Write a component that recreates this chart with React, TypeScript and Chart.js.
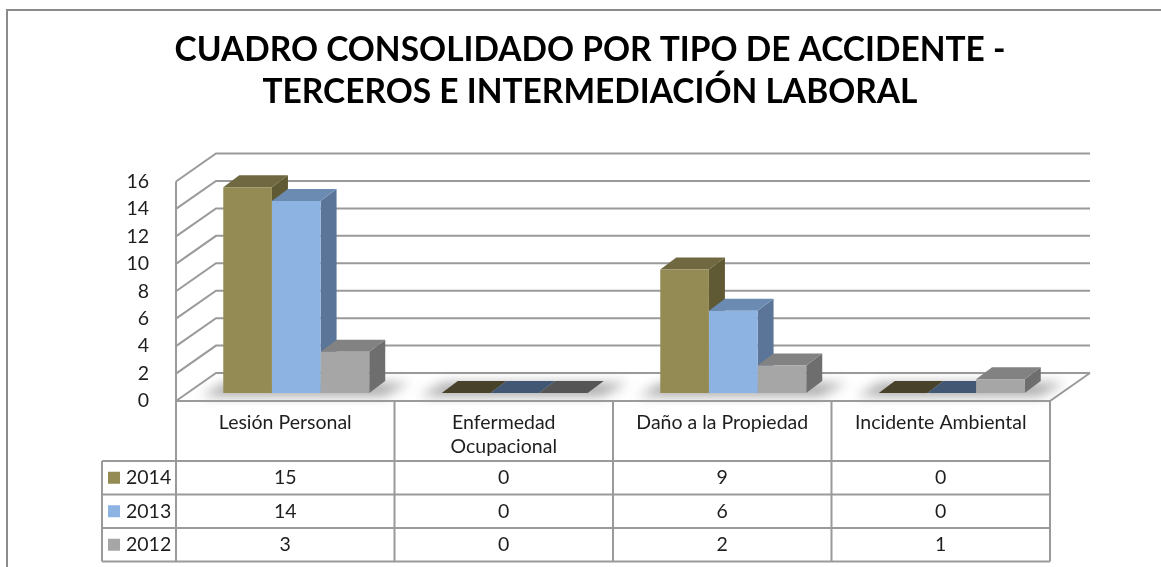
import React, { useEffect, useRef } from "react";
import { Chart, registerables } from "chart.js";

Chart.register(...registerables);

// ---------- data ----------
const categories: string[][] = [
  ["Lesión Personal"],
  ["Enfermedad", "Ocupacional"],
  ["Daño a la Propiedad"],
  ["Incidente Ambiental"],
];
const seriesNames = ["2014", "2013", "2012"];
const values2014 = [15, 0, 9, 0];
const values2013 = [14, 0, 6, 0];
const values2012 = [3, 0, 2, 1];
const yMin = 0;
const yMax = 16;
const yStep = 2;
const titleLines = [
  "CUADRO CONSOLIDADO POR TIPO DE ACCIDENTE -",
  "TERCEROS E INTERMEDIACIÓN LABORAL",
];

// ---------- styles ----------
const frontColors = ["#948A54", "#8DB3E2", "#A6A6A6"];
const sideColors = ["#5F5934", "#5A7598", "#6E6E6E"];
const topColors = ["#706840", "#6C8BB3", "#828282"];
const flatColors = ["#48422A", "#415773", "#555555"];
const lineColor = "#9A9A9A";
const textColor = "#1E1E1E";
const FONT = "Lato";

// depth offsets relative to the plane in which bars' front faces are drawn
const FRONT = { dx: -11, dy: 8 };
const BACK = { dx: 29, dy: -20 };
const BAR_DEPTH = { dx: 16, dy: -12 };

const CANVAS_W = 1161;
const CANVAS_H = 567;

const threeDPlugin = {
  id: "threeD",
  beforeDraw(chart: any) {
    const ctx = chart.ctx as CanvasRenderingContext2D;
    ctx.save();
    ctx.fillStyle = "#ffffff";
    ctx.fillRect(0, 0, chart.width, chart.height);
    // outer frame
    ctx.strokeStyle = "#8C8C8C";
    ctx.lineWidth = 2;
    ctx.beginPath();
    ctx.moveTo(7, chart.height);
    ctx.lineTo(7, 10);
    ctx.lineTo(chart.width, 10);
    ctx.stroke();
    // title
    ctx.fillStyle = "#000000";
    ctx.font = `bold 34px ${FONT}`;
    ctx.textAlign = "center";
    ctx.textBaseline = "alphabetic";
    const w1 = ctx.measureText(titleLines[0]).width;
    const sx = 831 / w1;
    ctx.translate(590, 0);
    ctx.scale(sx, 1);
    ctx.fillText(titleLines[0], 0, 61);
    ctx.fillText(titleLines[1], 0, 103);
    ctx.restore();
  },
  beforeDatasetsDraw(chart: any) {
    const ctx = chart.ctx as CanvasRenderingContext2D;
    const ys = chart.scales.y;
    const area = chart.chartArea;
    const y0 = ys.getPixelForValue(0);
    ctx.save();
    ctx.strokeStyle = lineColor;
    ctx.lineWidth = 2;
    // walls and gridlines
    for (let v = yMin; v <= yMax; v += yStep) {
      const yp = ys.getPixelForValue(v);
      ctx.beginPath();
      ctx.moveTo(area.left + FRONT.dx, yp + FRONT.dy);
      ctx.lineTo(area.left + BACK.dx, yp + BACK.dy);
      ctx.lineTo(area.right + BACK.dx, yp + BACK.dy);
      ctx.stroke();
    }
    ctx.beginPath();
    ctx.moveTo(area.left + FRONT.dx, ys.getPixelForValue(yMax) + FRONT.dy);
    ctx.lineTo(area.left + FRONT.dx, y0 + FRONT.dy);
    ctx.stroke();
    ctx.beginPath();
    ctx.moveTo(area.right + FRONT.dx, y0 + FRONT.dy);
    ctx.lineTo(area.right + BACK.dx, y0 + BACK.dy);
    ctx.stroke();

    const nCat = categories.length;
    const nSer = chart.data.datasets.length;
    // shadows under each group
    for (let i = 0; i < nCat; i++) {
      const first = chart.getDatasetMeta(0).data[i].getProps(["x", "width", "base"], true);
      const last = chart.getDatasetMeta(nSer - 1).data[i].getProps(["x", "width", "base"], true);
      const L = first.x - first.width / 2;
      const R = last.x + last.width / 2;
      const b = first.base;
      ctx.save();
      ctx.filter = "blur(6px)";
      ctx.fillStyle = "rgba(0,0,0,0.35)";
      ctx.beginPath();
      ctx.moveTo(L - 22, b + 3);
      ctx.lineTo(R + 14, b + 3);
      ctx.lineTo(R + BAR_DEPTH.dx + 24, b + BAR_DEPTH.dy + 2);
      ctx.lineTo(L + BAR_DEPTH.dx - 14, b + BAR_DEPTH.dy + 2);
      ctx.closePath();
      ctx.fill();
      ctx.restore();
    }
    // side & top faces, left to right
    for (let i = 0; i < nCat; i++) {
      for (let d = 0; d < nSer; d++) {
        const el = chart.getDatasetMeta(d).data[i];
        const { x, y, base, width } = el.getProps(["x", "y", "base", "width"], true);
        const L = x - width / 2;
        const R = x + width / 2;
        const h = base - y;
        if (h > 0.5) {
          ctx.fillStyle = sideColors[d];
          ctx.beginPath();
          ctx.moveTo(R, y);
          ctx.lineTo(R + BAR_DEPTH.dx, y + BAR_DEPTH.dy);
          ctx.lineTo(R + BAR_DEPTH.dx, base + BAR_DEPTH.dy);
          ctx.lineTo(R, base);
          ctx.closePath();
          ctx.fill();
        }
        ctx.fillStyle = h > 0.5 ? topColors[d] : flatColors[d];
        ctx.beginPath();
        ctx.moveTo(L, y);
        ctx.lineTo(R, y);
        ctx.lineTo(R + BAR_DEPTH.dx, y + BAR_DEPTH.dy);
        ctx.lineTo(L + BAR_DEPTH.dx, y + BAR_DEPTH.dy);
        ctx.closePath();
        ctx.fill();
      }
    }
    ctx.restore();
  },
  afterDraw(chart: any) {
    // data table
    const ctx = chart.ctx as CanvasRenderingContext2D;
    const ys = chart.scales.y;
    const xs = chart.scales.x;
    const area = chart.chartArea;
    const nCat = categories.length;
    const catW = (area.right - area.left) / nCat;
    const top = ys.getPixelForValue(0) + FRONT.dy;
    const headerBottom = top + 60;
    const rowH = 33.5;
    const legendLeft = 102;
    const tableLeft = area.left + FRONT.dx;
    const tableRight = area.right + FRONT.dx;
    const bottom = headerBottom + rowH * seriesNames.length;
    ctx.save();
    ctx.strokeStyle = lineColor;
    ctx.lineWidth = 2;
    ctx.beginPath();
    ctx.moveTo(tableLeft, top);
    ctx.lineTo(tableRight, top);
    for (let r = 0; r <= seriesNames.length; r++) {
      const yy = headerBottom + r * rowH;
      ctx.moveTo(legendLeft, yy);
      ctx.lineTo(tableRight, yy);
    }
    ctx.moveTo(legendLeft, headerBottom);
    ctx.lineTo(legendLeft, bottom);
    for (let c = 0; c <= nCat; c++) {
      const xx = tableLeft + c * catW;
      ctx.moveTo(xx, top);
      ctx.lineTo(xx, bottom);
    }
    ctx.stroke();

    ctx.fillStyle = textColor;
    ctx.font = `19.5px ${FONT}`;
    ctx.textAlign = "center";
    ctx.textBaseline = "middle";
    for (let c = 0; c < nCat; c++) {
      const cx = xs.getPixelForValue(c) + FRONT.dx;
      categories[c].forEach((line, k) => {
        ctx.fillText(line, cx, top + 22 + k * 24);
      });
    }
    const series = [values2014, values2013, values2012];
    series.forEach((vals, r) => {
      const cy = headerBottom + r * rowH + rowH / 2;
      vals.forEach((v, c) => {
        const cx = xs.getPixelForValue(c) + FRONT.dx;
        ctx.fillText(String(v), cx, cy);
      });
      ctx.fillStyle = frontColors[r];
      ctx.fillRect(108, cy - 6, 12, 12);
      ctx.fillStyle = textColor;
      ctx.textAlign = "left";
      ctx.fillText(seriesNames[r], 126, cy);
      ctx.textAlign = "center";
    });
    ctx.restore();
  },
};

export default function App() {
  const canvasRef = useRef<HTMLCanvasElement | null>(null);

  useEffect(() => {
    const canvas = canvasRef.current;
    if (!canvas) return;
    const series = [values2014, values2013, values2012];
    const chart = new Chart(canvas, {
      type: "bar",
      data: {
        labels: categories.map((c) => c.join(" ")),
        datasets: series.map((vals, d) => ({
          label: seriesNames[d],
          data: vals,
          backgroundColor: frontColors[d],
          borderWidth: 0,
          categoryPercentage: 0.668,
          barPercentage: 1.0,
        })),
      },
      options: {
        responsive: false,
        animation: false,
        events: [],
        layout: {
          padding: { left: 87, right: 100, top: 173.5, bottom: 174 },
        },
        plugins: {
          legend: { display: false },
          title: { display: false },
          tooltip: { enabled: false },
        },
        scales: {
          x: {
            display: false,
            offset: true,
          },
          y: {
            min: yMin,
            max: yMax,
            afterFit: (scale: any) => {
              scale.width = 100;
            },
            grid: { display: false },
            border: { display: false },
            ticks: {
              stepSize: yStep,
              padding: 30,
              labelOffset: 8,
              color: textColor,
              font: { family: FONT, size: 19.5 },
            },
          },
        },
      },
      plugins: [threeDPlugin],
    });
    return () => chart.destroy();
  }, []);

  return (
    <div style={{ position: "absolute", left: 0, top: 0, width: CANVAS_W, height: CANVAS_H }}>
      <canvas ref={canvasRef} width={CANVAS_W} height={CANVAS_H} />
    </div>
  );
}
